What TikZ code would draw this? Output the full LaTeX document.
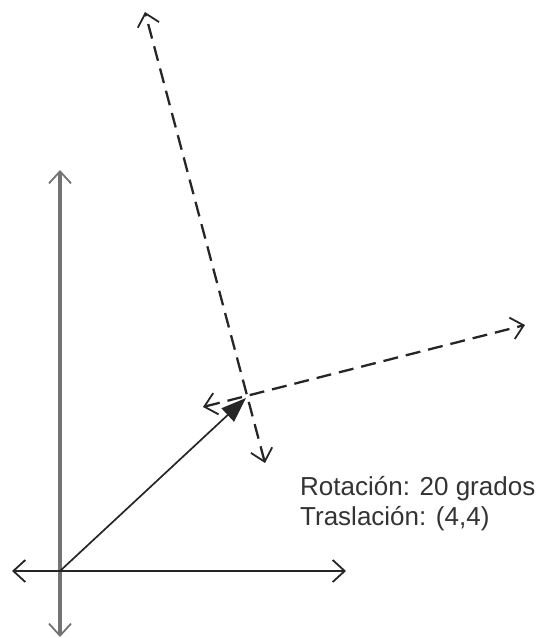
\documentclass[tikz,border=0pt]{standalone}
\usepackage{fontspec}
\setmainfont{Liberation Sans}
\usetikzlibrary{arrows.meta}
\begin{document}
\begin{tikzpicture}[x=1pt, y=-1pt,
    barb/.tip={Straight Barb[length=12pt, width=22pt, line width=1.8pt]},
    ejev/.style={{barb}-{barb}, line width=3.2pt, black!55},
    ejeh/.style={{barb}-{barb}, line width=2.4pt, black!85},
    ejerot/.style={{barb}-{barb}, line width=2.3pt, black!85, dash pattern=on 15pt off 8pt},
    vec/.style={-{Triangle[length=25pt, width=18pt]}, line width=1.7pt, black!85},
    lbl/.style={anchor=base west, inner sep=0pt, text=black!80,
                font=\fontsize{26}{30}\selectfont}]

  \useasboundingbox (0,0) rectangle (541,638);

% ---------------- the fixed frame
  \coordinate (O)    at (60,571);
  \coordinate (xizq) at (12,571);
  \coordinate (xder) at (346,571);
  \coordinate (yarr) at (60,170);
  \coordinate (yabj) at (60,637);
  \draw[ejev] (yabj) -- (yarr);
  \draw[ejeh] (xizq) -- (xder);

% ---------------- the moved frame: rotated, translated
  \coordinate (C)     at (248,396);
  \coordinate (uizq)  at (203,407);
  \coordinate (uder)  at (525,325);
  \coordinate (varr)  at (145,12);
  \coordinate (vabj)  at (265,463);
  \draw[ejerot] (vabj) -- (varr);
  \draw[ejerot] (uizq) -- (uder);

% ---------------- translation vector
  \coordinate (T) at (246,398);
  \draw[vec] (O) -- (T);

% ---------------- legend
  \node[lbl] (rot)  at (300,495) {Rotación: 20 grados};
  \node[lbl] (tras) at (300,525) {Traslación: (4,4)};
\end{tikzpicture}
\end{document}
